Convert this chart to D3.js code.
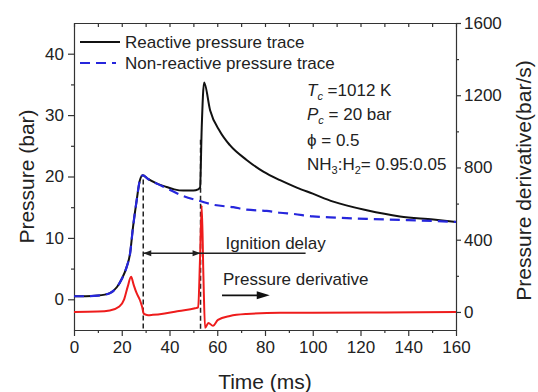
<!DOCTYPE html>
<html>
<head>
<meta charset="utf-8">
<script src="https://cdn.jsdelivr.net/npm/d3@7"></script>
<style>
  body { margin: 0; background: #fff; }
  text { font-family: "Liberation Sans", Arial, sans-serif; fill: #222; }
</style>
</head>
<body>
<svg id="chart" width="538" height="392"></svg>
<script>
// reactive pressure trace (bar) vs time (ms)
const reactiveTime = [0, 5, 10, 15, 18, 20, 22, 23.5, 24.7, 26.2, 27.6, 28.8, 31, 35, 38.8, 42, 45.8, 50, 52, 52.8, 53.5, 54.5, 57, 61.2, 65.3, 72.3, 79.3, 86.3, 93.3, 100, 108.6, 122.6, 136.5, 150.5, 160];
const reactivePressure = [0.5, 0.5, 0.6, 1.0, 2.0, 3.3, 5.2, 7.5, 11.7, 16, 19.4, 20.2, 19.6, 18.8, 18.3, 17.9, 17.7, 17.7, 17.9, 18.2, 28, 35.3, 30.8, 27.3, 25.1, 22.7, 20.8, 19.4, 18.2, 17.2, 15.9, 14.5, 13.5, 13.0, 12.6];

// non-reactive pressure trace (bar)
const nonReactiveTime = [0, 5, 10, 15, 18, 20, 22, 23.5, 24.7, 26.2, 27.6, 28.8, 31, 35, 38.8, 45.8, 52.8, 58.3, 66.7, 72.3, 80.7, 86.3, 91.9, 100, 110, 122.6, 140, 160];
const nonReactivePressure = [0.5, 0.5, 0.6, 1.0, 2.0, 3.3, 5.2, 7.5, 11.7, 16, 19.4, 20.2, 19.6, 18.8, 18.1, 16.8, 16.0, 15.4, 15.0, 14.6, 14.4, 14.1, 13.9, 13.5, 13.3, 13.1, 12.9, 12.6];

// pressure derivative (bar/s)
const derivTime = [0, 10, 15, 19, 21, 22.5, 23.9, 25, 26.2, 27.6, 28.5, 29.3, 31, 33, 38, 44, 50.7, 52, 52.8, 53.5, 54.2, 54.9, 56.3, 58.2, 60.3, 65.3, 72.3, 86.3, 100, 130, 160];
const derivValue = [0, 2, 8, 30, 70, 140, 195, 150, 105, 66, 30, -11, -18, -16, -8, 5, 20, 25, 300, 590, 200, -88, -61, -77, -44, -22, -11, -5, -5, -3, 0];

// end of compression and ignition (ms)
const eventTimes = [29, 53];

const xTicks = [0, 20, 40, 60, 80, 100, 120, 140, 160];
const leftTicks = [0, 10, 20, 30, 40];
const rightTicks = [0, 400, 800, 1200, 1600];

const svg = d3.select('#chart');
const margin = {top: 23, right: 82, bottom: 62, left: 74};
const width = 538 - margin.left - margin.right;
const height = 392 - margin.top - margin.bottom;

const x = d3.scaleLinear().domain([0, 160]).range([0, width]);
const yL = d3.scaleLinear().domain([-5, 45]).range([height, 0]);
const yR = d3.scaleLinear().domain([-100, 1600]).range([height, 0]);

const g = svg.append('g')
    .attr('transform', 'translate(' + margin.left + ',' + margin.top + ')');

function styleAxis(sel) {
  sel.selectAll('path, line').attr('stroke', '#333').attr('stroke-width', 1.2);
  sel.selectAll('text')
      .style('font-family', '"Liberation Sans", Arial, sans-serif')
      .style('font-size', '17px').attr('fill', '#222');
}

// bottom axis
g.append('g').attr('transform', 'translate(0,' + height + ')')
    .call(d3.axisBottom(x).tickValues(xTicks).tickSize(6).tickPadding(5)
        .tickSizeOuter(0))
    .call(styleAxis);
g.append('g').attr('transform', 'translate(0,' + height + ')')
    .call(d3.axisBottom(x).tickValues(d3.range(10, 160, 20)).tickSize(3)
        .tickFormat(''))
    .call((s) => s.select('.domain').remove())
    .call(styleAxis);

// top axis
g.append('g')
    .call(d3.axisTop(x).tickValues(d3.range(0, 161, 10)).tickSize(-4)
        .tickSizeOuter(0).tickFormat(''))
    .call(styleAxis);

// left axis
g.append('g')
    .call(d3.axisLeft(yL).tickValues(leftTicks).tickSize(6).tickPadding(4)
        .tickSizeOuter(0))
    .call(styleAxis);
g.append('g')
    .call(d3.axisLeft(yL).tickValues([5, 15, 25, 35]).tickSize(3)
        .tickFormat(''))
    .call((s) => s.select('.domain').remove())
    .call(styleAxis);

// right axis
g.append('g').attr('transform', 'translate(' + width + ',0)')
    .call(d3.axisRight(yR).tickValues(rightTicks).tickSize(5).tickPadding(3)
        .tickSizeOuter(0).tickFormat(d3.format('d')))
    .call(styleAxis);
g.append('g').attr('transform', 'translate(' + width + ',0)')
    .call(d3.axisRight(yR).tickValues([200, 600, 1000, 1400]).tickSize(3)
        .tickFormat(''))
    .call((s) => s.select('.domain').remove())
    .call(styleAxis);

// axis titles
svg.append('text')
    .attr('x', margin.left + width / 2).attr('y', 389)
    .attr('text-anchor', 'middle').style('font-size', '21px')
    .text('Time (ms)');
svg.append('text')
    .attr('transform', 'translate(34,' + (margin.top + height / 2) + ') rotate(-90)')
    .attr('text-anchor', 'middle').style('font-size', '21px')
    .text('Pressure (bar)');
svg.append('text')
    .attr('transform', 'translate(531,' + (margin.top + height / 2 + 4) + ') rotate(-90)')
    .attr('text-anchor', 'middle').style('font-size', '21px')
    .text('Pressure derivative(bar/s)');

// event markers
g.selectAll('.event')
    .data(eventTimes).enter()
    .append('line')
    .attr('x1', (d) => x(d)).attr('x2', (d) => x(d))
    .attr('y1', (d, i) => i == 0 ? yL(19.5) : yL(26))
    .attr('y2', height)
    .attr('stroke', '#222').attr('stroke-width', 1.5)
    .attr('stroke-dasharray', '5,3');

const curve = d3.curveMonotoneX;

const lineDeriv = d3.line().curve(curve)
    .x((d, i) => x(derivTime[i])).y((d) => yR(d));
g.append('path').datum(derivValue)
    .attr('d', lineDeriv)
    .attr('fill', 'none').attr('stroke', '#ee1c1c').attr('stroke-width', 2);

const lineReactive = d3.line().curve(curve)
    .x((d, i) => x(reactiveTime[i])).y((d) => yL(d));
g.append('path').datum(reactivePressure)
    .attr('d', lineReactive)
    .attr('fill', 'none').attr('stroke', '#111').attr('stroke-width', 2);

const lineNonReactive = d3.line().curve(curve)
    .x((d, i) => x(nonReactiveTime[i])).y((d) => yL(d));
g.append('path').datum(nonReactivePressure)
    .attr('d', lineNonReactive)
    .attr('fill', 'none').attr('stroke', '#2626dc').attr('stroke-width', 2.2)
    .attr('stroke-dasharray', '10,6');

// ignition delay arrow
const arrowY = yL(7.5);
g.append('line')
    .attr('x1', x(eventTimes[0])).attr('x2', x(97))
    .attr('y1', arrowY).attr('y2', arrowY)
    .attr('stroke', '#222').attr('stroke-width', 1.3);
const x0 = x(eventTimes[0]);
const x1 = x(eventTimes[1]);
g.append('path')
    .attr('d', 'M' + x0 + ',' + arrowY + 'l8,-3l0,6z').attr('fill', '#222');
g.append('path')
    .attr('d', 'M' + x1 + ',' + arrowY + 'l-8,-3l0,6z').attr('fill', '#222');
g.append('text')
    .attr('x', x(63.5)).attr('y', arrowY - 4)
    .style('font-size', '17px').text('Ignition delay');

// pressure derivative arrow
const dY = yL(0.65);
g.append('line')
    .attr('x1', x(62)).attr('x2', x(77))
    .attr('y1', dY).attr('y2', dY)
    .attr('stroke', '#111').attr('stroke-width', 1.8);
g.append('path')
    .attr('d', 'M' + x(82) + ',' + dY + 'l-13,-4l0,8z').attr('fill', '#111');
g.append('text')
    .attr('x', x(62.4)).attr('y', dY - 10)
    .style('font-size', '17px').text('Pressure derivative');

// legend
const legend = svg.append('g');
legend.append('line').attr('x1', 80).attr('x2', 120)
    .attr('y1', 42).attr('y2', 42)
    .attr('stroke', '#111').attr('stroke-width', 2);
legend.append('line').attr('x1', 80).attr('x2', 116)
    .attr('y1', 63).attr('y2', 63)
    .attr('stroke', '#2626dc').attr('stroke-width', 2.2)
    .attr('stroke-dasharray', '10,6');
legend.append('text').attr('x', 125).attr('y', 47.5)
    .style('font-size', '17px').text('Reactive pressure trace');
legend.append('text').attr('x', 125).attr('y', 68.5)
    .style('font-size', '17px').text('Non-reactive pressure trace');

// conditions
const cond = svg.append('g').style('font-size', '17px');
const t1 = cond.append('text').attr('x', 307).attr('y', 96);
t1.append('tspan').style('font-style', 'italic').text('T');
t1.append('tspan').style('font-style', 'italic').style('font-size', '11px')
    .attr('dy', 4).text('c');
t1.append('tspan').attr('dy', -4).text(' =1012 K');
const t2 = cond.append('text').attr('x', 307).attr('y', 120);
t2.append('tspan').style('font-style', 'italic').text('P');
t2.append('tspan').style('font-style', 'italic').style('font-size', '11px')
    .attr('dy', 4).text('c');
t2.append('tspan').attr('dy', -4).text(' = 20 bar');
cond.append('text').attr('x', 307).attr('y', 145.5).text('\u03d5 = 0.5');
const t4 = cond.append('text').attr('x', 307).attr('y', 170);
t4.append('tspan').text('NH');
t4.append('tspan').style('font-size', '11px').attr('dy', 4).text('3');
t4.append('tspan').attr('dy', -4).text(':H');
t4.append('tspan').style('font-size', '11px').attr('dy', 4).text('2');
t4.append('tspan').attr('dy', -4).text('= 0.95:0.05');
</script>
</body>
</html>
